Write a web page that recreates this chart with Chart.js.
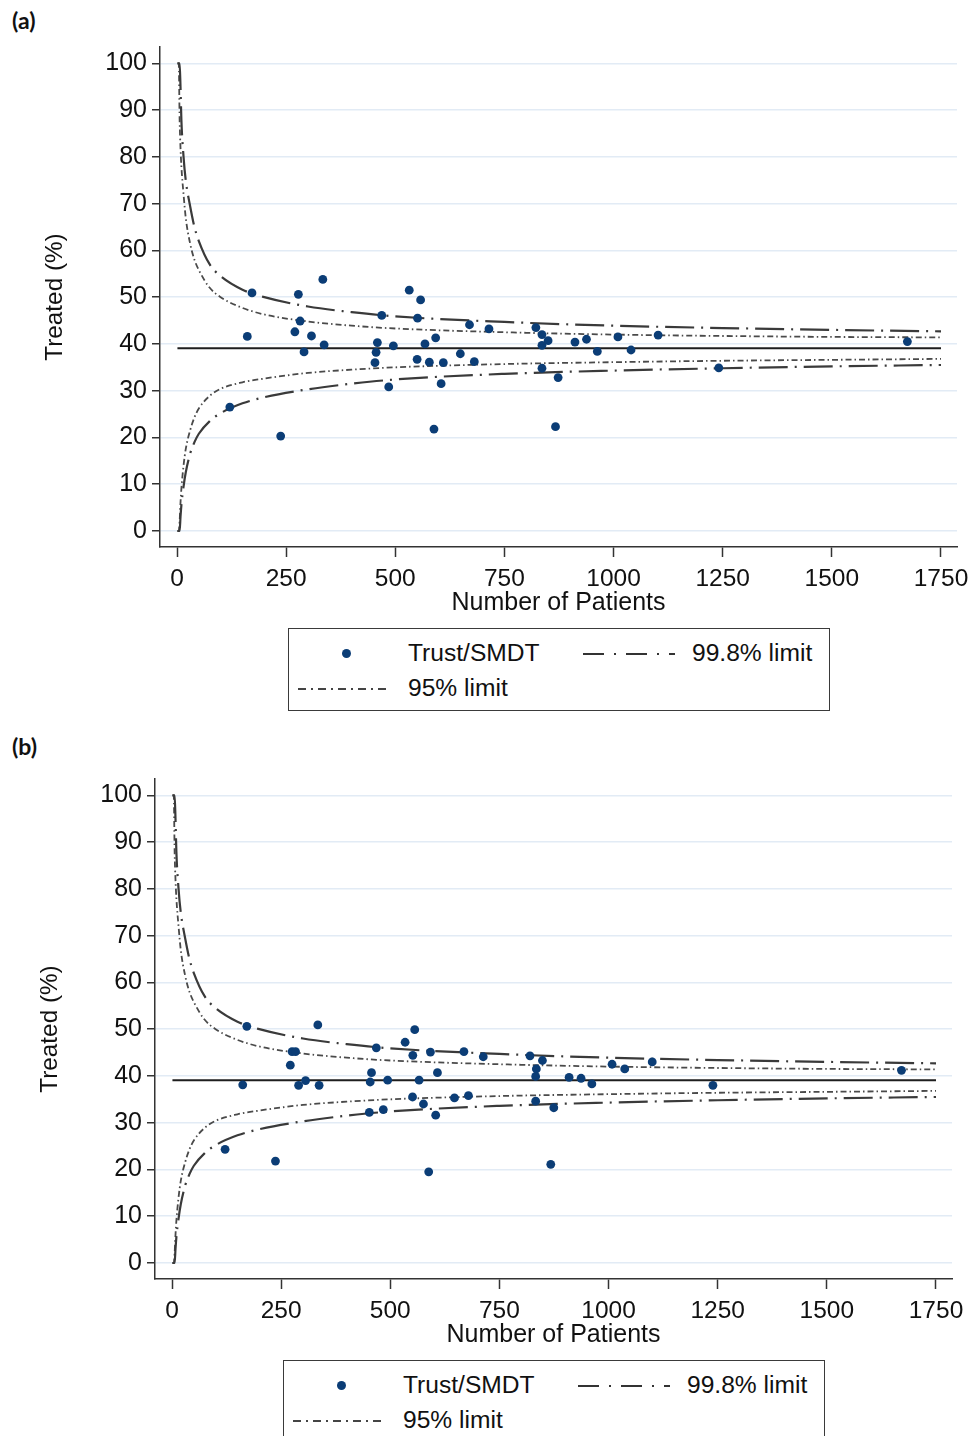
<!DOCTYPE html>
<html><head><meta charset="utf-8">
<script src="https://cdn.jsdelivr.net/npm/chart.js@4/dist/chart.umd.min.js"></script>
<style>
html,body{margin:0;padding:0;background:#fff;width:970px;height:1436px;overflow:hidden;position:relative;font-family:"Liberation Sans",Arial,sans-serif;}
.panel{position:absolute;width:970px;height:720px;}
.panel canvas{position:absolute;left:0;top:0;}
.tag{position:absolute;left:12px;font-family:Lato,"Liberation Sans",sans-serif;font-weight:700;font-size:23px;line-height:28px;color:#111;}
.legend{position:absolute;left:288px;top:628px;width:542px;height:83px;border:1.5px solid #3a3a3a;box-sizing:border-box;}
.lg-text{position:absolute;font-size:24.6px;line-height:28px;color:#111;white-space:nowrap;}
.dot{position:absolute;width:9px;height:9px;border-radius:50%;background:#0b3d76;}
svg.sample{position:absolute;overflow:visible;}
</style></head>
<body>
<div class="tag" style="top:6px">(a)</div>
<div class="tag" style="top:732px">(b)</div>
<div class="panel" id="panelA" style="left:0;top:0"><canvas id="chartA" width="970" height="620"></canvas></div>
<div class="panel" id="panelB" style="left:-5px;top:732px"><canvas id="chartB" width="970" height="620"></canvas></div>
<script>
// ---- Panel (a): number of patients and % treated per Trust/SMDT ----
const nA = [171.8,161,334,278,282,270,308,337,291,121,237.5,532,558,469,551,459,456,453.5,495.6,485,568,592.5,550,578,610,605,588.6,649,681,670,714.6,822,836,850,836,836,867,873,911.6,938,962.8,1010,1040,1102,1241,1673];
const pctA = [50.9,41.6,53.8,50.6,44.9,42.6,41.7,39.8,38.3,26.5,20.3,51.5,49.4,46.1,45.5,40.3,38.2,36.0,39.6,30.8,40.0,41.3,36.7,36.1,36.0,31.5,21.8,37.9,36.2,44.1,43.2,43.5,42.0,40.7,39.7,34.8,22.3,32.8,40.4,41.0,38.4,41.5,38.7,41.9,34.9,40.5];

// ---- Panel (b) ----
const nB = [171.4,334,162,121.6,237,275,283,271,306,290,337,468,457,454,452,494,484,534,556,551.6,566,551,576,588,592,608,604,647,679,668.7,713,820,848.5,834.6,833,833,867.6,874.5,909.6,937,961.7,1008,1037,1100,1239,1671];
const pctB = [50.6,50.9,38.1,24.3,21.8,45.2,45.2,42.3,39.0,38.0,38.0,46.0,40.7,38.7,32.2,39.1,32.8,47.2,49.9,44.4,39.1,35.5,34.0,19.5,45.1,40.7,31.6,35.3,35.8,45.2,44.1,44.3,43.3,41.5,39.9,34.6,21.1,33.2,39.7,39.5,38.3,42.5,41.5,43.0,38.0,41.2];

// ---- Overall mean line (both panels) ----
const meanN = [1, 1750];
const meanPct = [39.1, 39.1];

// ---- Control limits (both panels) ----
const limitN   = [1, 4, 6, 8, 10, 15, 20, 30, 40, 50, 75, 100, 150, 200, 300, 400, 500, 750, 1000, 1250, 1500, 1750];
const upper998 = [100, 100, 100, 95, 88, 80, 75, 69.5, 65, 62, 57, 54.5, 51.6, 50, 48, 46.8, 45.9, 44.7, 43.9, 43.4, 43.0, 42.7];
const upper95  = [100, 100, 88, 82, 78, 72, 67, 61.5, 58, 55.8, 52, 50, 47.7, 46.3, 44.8, 43.9, 43.3, 42.5, 42.0, 41.7, 41.5, 41.4];
const lower95  = [0, 0, 2, 6, 9, 14, 17.5, 21.5, 24.3, 26.2, 28.9, 30.4, 31.8, 32.6, 33.8, 34.5, 35.0, 35.7, 36.1, 36.4, 36.6, 36.8];
const lower998 = [0, 0, 0, 3, 5.5, 9.5, 12.5, 16.5, 19, 20.8, 23.5, 25.2, 27.3, 28.6, 30.3, 31.5, 32.4, 33.6, 34.3, 34.8, 35.2, 35.5];

// ---- Axis ticks ----
const xTicks = [0, 250, 500, 750, 1000, 1250, 1500, 1750];
const yTicks = [0, 10, 20, 30, 40, 50, 60, 70, 80, 90, 100];

const FONT = "'Liberation Sans', Arial, sans-serif";
const NAVY = '#0b3d76';
const DASH998 = [29, 7, 2, 7];
const DASH95 = [6, 3, 1.5, 3];

Chart.defaults.font.family = FONT;

function pairs(xs, ys){ return xs.map((v,i)=>({x:v, y:ys[i]})); }

function limitDs(label, ys, dash, color, width){
  return {label, data: pairs(limitN, ys), showLine:true, borderColor:color, borderWidth:width,
    borderDash:dash, pointRadius:0, cubicInterpolationMode:'monotone', order:2};
}

function makeChart(canvas, n, pct){
  return new Chart(canvas, {
    type:'scatter',
    data:{datasets:[
      {label:'Trust/SMDT', data:pairs(n, pct), backgroundColor:NAVY, borderColor:NAVY,
        pointRadius:4.4, pointBorderWidth:0, showLine:false, order:0},
      {label:'mean', data:pairs(meanN, meanPct), showLine:true, borderColor:'#1e1e1e', borderWidth:2, pointRadius:0, order:1},
      limitDs('99.8% upper', upper998, DASH998, '#3a3a3a', 2.2),
      limitDs('99.8% lower', lower998, DASH998, '#3a3a3a', 2.2),
      limitDs('95% upper', upper95, DASH95, '#4a4a4a', 1.8),
      limitDs('95% lower', lower95, DASH95, '#4a4a4a', 1.8)
    ]},
    options:{
      responsive:false, animation:false, devicePixelRatio:1,
      layout:{padding:{left:0, top:47, right:13, bottom:0}},
      plugins:{legend:{display:false}, tooltip:{enabled:false}},
      scales:{
        x:{type:'linear', min:-38.94, max:1786.65,
          afterBuildTicks:s=>{ s.ticks = xTicks.map(v=>({value:v})); },
          afterFit:s=>{ s.height = 73; s.paddingLeft = 0; s.paddingRight = 0; },
          grid:{drawOnChartArea:false, drawTicks:true, tickLength:10, tickColor:'#333', tickWidth:1.5},
          border:{color:'#333', width:1.5},
          ticks:{font:{family:FONT, size:24.5}, color:'#111', padding:8, maxRotation:0, autoSkip:false,
            callback:v=>String(v)},
          title:{display:true, text:'Number of Patients', font:{family:FONT, size:25}, color:'#111', padding:{top:0, bottom:1.4}}
        },
        y:{type:'linear', min:-3.42, max:103.49,
          afterBuildTicks:s=>{ s.ticks = yTicks.map(v=>({value:v})); },
          afterFit:s=>{ s.width = 160; },
          grid:{color:'#e2ebf5', lineWidth:1.5, drawTicks:true, tickLength:8, tickColor:'#333', tickWidth:1.5},
          border:{color:'#333', width:1.5},
          ticks:{font:{family:FONT, size:25}, color:'#111', padding:5, autoSkip:false,
            callback:v=>String(v)},
          title:{display:true, text:'Treated (%)', font:{family:FONT, size:24.3}, color:'#111', padding:{top:40.4, bottom:0}}
        }
      }
    }
  });
}

function addLegend(panel){
  const box = document.createElement('div');
  box.className = 'legend';
  box.innerHTML =
    '<div class="dot" style="left:53px;top:20px"></div>' +
    '<div class="lg-text" style="left:119px;top:10px">Trust/SMDT</div>' +
    '<svg class="sample" style="left:294px;top:22px" width="92" height="6"><line x1="0" y1="3" x2="92" y2="3" stroke="#333" stroke-width="2.2" stroke-dasharray="21 10 2 10"/></svg>' +
    '<div class="lg-text" style="left:403px;top:10px">99.8% limit</div>' +
    '<svg class="sample" style="left:9px;top:57px" width="90" height="6"><line x1="0" y1="3" x2="90" y2="3" stroke="#444" stroke-width="1.8" stroke-dasharray="8 5 2 5"/></svg>' +
    '<div class="lg-text" style="left:119px;top:45px">95% limit</div>';
  panel.appendChild(box);
}

addLegend(document.getElementById('panelA'));
addLegend(document.getElementById('panelB'));
makeChart(document.getElementById('chartA'), nA, pctA);
makeChart(document.getElementById('chartB'), nB, pctB);
</script>
</body></html>
